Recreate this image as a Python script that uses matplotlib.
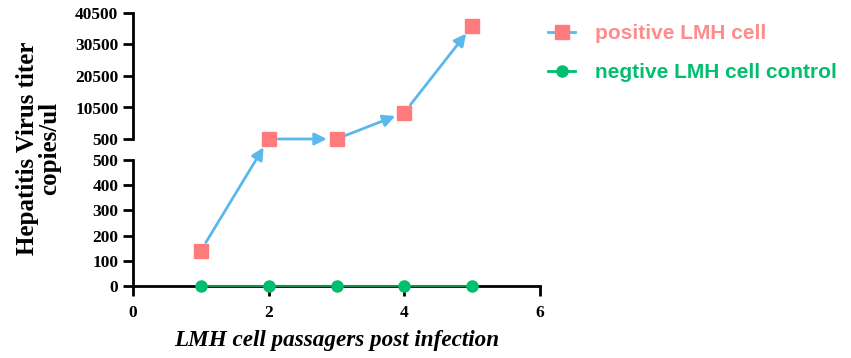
import matplotlib
matplotlib.use("Agg")
import matplotlib.pyplot as plt
from matplotlib.lines import Line2D
from matplotlib.patches import ConnectionPatch

passages = [1, 2, 3, 4, 5]
positive = [140, 500, 500, 8900, 36400]
negative = [0, 0, 0, 0, 0]
labels = ["positive LMH cell", "negtive LMH cell control"]
low_ticks = [0, 100, 200, 300, 400, 500]
up_ticks = [500, 10500, 20500, 30500, 40500]
x_ticks = [0, 2, 4, 6]

pink = "#FF7B7B"
blue = "#5BB8EC"
green = "#00BF6F"
green_line = "#1E8A55"

serif = "Liberation Serif"
sans = "Liberation Sans"

fig = plt.figure(figsize=(8.51, 3.58), dpi=100)
W, H = 851, 358
left, width = 133 / W, 407 / W
ax_up = fig.add_axes([left, (H - 139) / H, width, 126 / H])
ax_low = fig.add_axes([left, (H - 286) / H, width, 126 / H])

for ax in (ax_up, ax_low):
    ax.set_xlim(0, 6)
    ax.spines["top"].set_visible(False)
    ax.spines["right"].set_visible(False)
    ax.spines["left"].set_linewidth(2)
    ax.spines["bottom"].set_linewidth(2)
    ax.tick_params(width=2, length=7)
    ax.patch.set_alpha(0)

ax_up.set_ylim(500, 40500)
ax_up.set_yticks(up_ticks)
ax_up.spines["bottom"].set_visible(False)
ax_up.set_xticks([])

ax_low.set_ylim(0, 500)
ax_low.set_yticks(low_ticks)
ax_low.set_xticks(x_ticks)
ax_low.tick_params(axis="x", pad=7)

for ax in (ax_up, ax_low):
    for t in ax.get_yticklabels() + ax.get_xticklabels():
        t.set_fontfamily(serif)
        t.set_fontweight("bold")
        t.set_fontsize(12.5)

ax_low.set_xlabel("LMH cell passagers post infection", fontfamily=serif,
                  fontweight="bold", fontstyle="italic", fontsize=16.7, labelpad=6)
fig.text(39 / W, 1 - 148 / H, "Hepatitis Virus titer\ncopies/ul", rotation=90,
         ha="center", va="center", fontfamily=serif, fontweight="bold",
         fontsize=18, linespacing=0.95)


def axis_for(v):
    return ax_up if v >= 500 else ax_low


# positive series: arrows between points, then square markers
for i in range(len(passages) - 1):
    a, b = axis_for(positive[i]), axis_for(positive[i + 1])
    con = ConnectionPatch(xyA=(passages[i], positive[i]), coordsA=a.transData,
                          xyB=(passages[i + 1], positive[i + 1]), coordsB=b.transData,
                          arrowstyle="-|>,head_length=0.6,head_width=0.3",
                          color=blue, lw=2, shrinkA=7, shrinkB=7,
                          mutation_scale=12)
    fig.add_artist(con)

for x, v in zip(passages, positive):
    axis_for(v).plot(x, v, "s", color=pink, ms=10.5, clip_on=False, zorder=5)

ax_low.plot(passages, negative, "-", color=green_line, lw=1.5, clip_on=False, zorder=4)
ax_low.plot(passages, negative, "o", color=green, ms=8, clip_on=False, zorder=5)

handles = [
    Line2D([], [], color=blue, lw=2, marker="s", ms=10.5, mfc=pink, mec=pink),
    Line2D([], [], color=green, lw=2, marker="o", ms=8, mfc=green, mec=green),
]
fig.legend(handles, labels, loc="upper left", bbox_to_anchor=(548 / W, 1 - 24 / H),
           frameon=False, labelcolor=["#FF8C8C", green], handlelength=1.3,
           handletextpad=0.95, labelspacing=0.95, borderpad=0, borderaxespad=0,
           prop={"family": sans, "weight": "bold", "size": 15})

fig.savefig("out.png", dpi=100)
